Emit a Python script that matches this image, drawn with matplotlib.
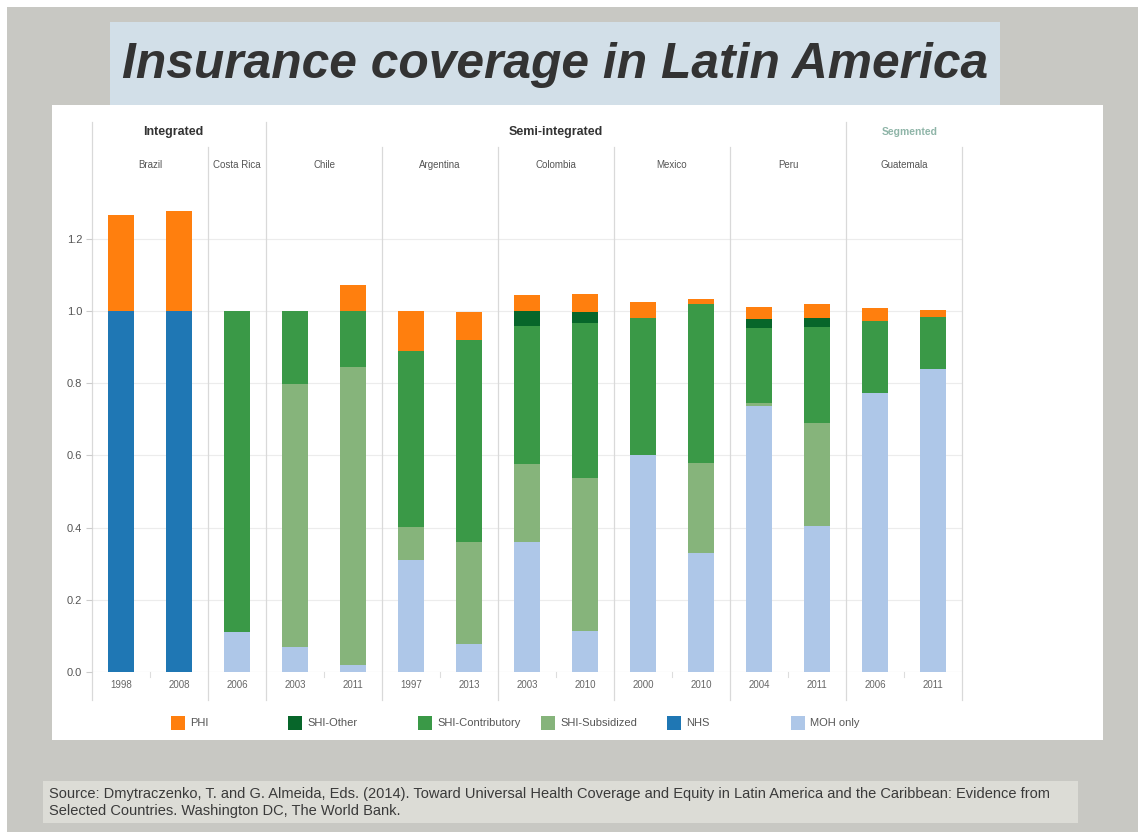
import numpy as np
import matplotlib
matplotlib.use("Agg")
from matplotlib import pyplot as plt
from matplotlib.patches import Rectangle

plt.rcParams['font.family'] = ['Liberation Sans', 'DejaVu Sans']

# one entry per bar, left to right
countries = ["Brazil", "Brazil", "Costa Rica", "Chile", "Chile", "Argentina", "Argentina",
             "Colombia", "Colombia", "Mexico", "Mexico", "Peru", "Peru", "Guatemala", "Guatemala"]
years = ["1998", "2008", "2006", "2003", "2011", "1997", "2013", "2003", "2010",
         "2000", "2010", "2004", "2011", "2006", "2011"]
groups = [("Integrated", 0, 2), ("Semi-integrated", 3, 12), ("Segmented", 13, 14)]

# shares of population, stacked bottom to top
nhs = [1.0, 1.0, 0, 0, 0, 0, 0, 0, 0, 0, 0, 0, 0, 0, 0]
moh = [0, 0, 0.11, 0.07, 0.02, 0.31, 0.078, 0.36, 0.113, 0.60, 0.33, 0.737, 0.404, 0.773, 0.839]
shi_sub = [0, 0, 0, 0.727, 0.825, 0.092, 0.282, 0.216, 0.424, 0, 0.25, 0.008, 0.286, 0, 0]
shi_contrib = [0, 0, 0.89, 0.203, 0.155, 0.487, 0.56, 0.382, 0.43, 0.38, 0.44, 0.208, 0.266, 0.199, 0.144]
shi_other = [0, 0, 0, 0, 0, 0, 0, 0.042, 0.03, 0, 0, 0.025, 0.024, 0, 0]
phi = [0.267, 0.277, 0, 0, 0.072, 0.111, 0.077, 0.044, 0.05, 0.045, 0.014, 0.032, 0.039, 0.036, 0.02]

series = [
    ("NHS", nhs, "#1f77b4"),
    ("MOH only", moh, "#aec7e8"),
    ("SHI-Subsidized", shi_sub, "#86b47b"),
    ("SHI-Contributory", shi_contrib, "#3a9947"),
    ("SHI-Other", shi_other, "#07662a"),
    ("PHI", phi, "#ff7f0e"),
]
legend_order = ["PHI", "SHI-Other", "SHI-Contributory", "SHI-Subsidized", "NHS", "MOH only"]

W, H = 1138, 832
fig = plt.figure(figsize=(W / 100, H / 100), dpi=100, facecolor="white")


def box(x0, y0, x1, y1, color, z=0, **kw):
    fig.add_artist(Rectangle((x0 / W, 1 - y1 / H), (x1 - x0) / W, (y1 - y0) / H,
                             transform=fig.transFigure, facecolor=color,
                             edgecolor="none", zorder=z, **kw))


# slide background, title strip, chart panel, source note
box(7, 7, W, H, "#c8c8c3")
box(110, 22, 1000, 105, "#d2dfe8", 1)
box(52, 105, 1103, 740, "white", 1)
box(43, 781, 1078, 823, "#dcdcd6", 1)

fig.text(555 / W, 1 - 65 / H, "Insurance coverage in Latin America", ha="center", va="center",
         fontsize=35.8, fontweight="bold", fontstyle="italic", color="#333333", zorder=3)
fig.text(49 / W, 1 - 794 / H,
         "Source: Dmytraczenko, T. and G. Almeida, Eds. (2014). Toward Universal Health Coverage and "
         "Equity in Latin America and the Caribbean: Evidence from",
         ha="left", va="center", fontsize=10.5, color="#3a3a3a", zorder=3)
fig.text(49 / W, 1 - 811 / H, "Selected Countries. Washington DC, The World Bank.",
         ha="left", va="center", fontsize=10.5, color="#3a3a3a", zorder=3)

# plot area: y=0 at 672px, y=1 at 311px
ax = fig.add_axes([92 / W, 1 - 672 / H, 870 / W, 550 / H], zorder=5)
ax.set_facecolor("none")
ytop = 550 / 361
ax.set_xlim(-0.5, 14.5)
ax.set_ylim(0, ytop)
for s in ax.spines.values():
    s.set_visible(False)

x = np.arange(len(years))
yt = [0, 0.2, 0.4, 0.6, 0.8, 1.0, 1.2]
ax.hlines(yt[1:], -0.5, 14.5, color="#ececec", lw=0.8, zorder=0)
ax.hlines(0, -0.5, 14.5, color="#d6d6d6", lw=0.8, zorder=0)

bottom = np.zeros(len(years))
handles = {}
for name, vals, col in series:
    vals = np.array(vals)
    handles[name] = ax.bar(x, vals, 0.45, bottom=bottom, color=col, edgecolor="none", zorder=2)
    bottom += vals

ax.set_yticks(yt, [f"{v:.1f}" for v in yt])
ax.tick_params(axis="y", length=4, color="#cccccc", labelsize=8, labelcolor="#555555", pad=3)
ax.set_xticks(x, years)
ax.tick_params(axis="x", length=0, labelsize=7, labelcolor="#666666", pad=6)

# separators between countries and between groups
group_edges = [-0.5, 2.5, 12.5]
country_edges = [1.5, 4.5, 6.5, 8.5, 10.5, 14.5]
for e in group_edges:
    ax.plot([e, e], [-0.078, ytop], color="#d9d9d9", lw=0.9, clip_on=False, zorder=1)
for e in country_edges:
    ax.plot([e, e], [-0.078, 1.455], color="#d9d9d9", lw=0.9, clip_on=False, zorder=1)
for e in [0.5, 3.5, 5.5, 7.5, 9.5, 11.5, 13.5]:
    ax.plot([e, e], [0, -0.015], color="#dddddd", lw=0.8, clip_on=False, zorder=1)

# country names
seen = []
for c in countries:
    if c not in seen:
        seen.append(c)
for c in seen:
    idx = [i for i, cc in enumerate(countries) if cc == c]
    ax.text(np.mean(idx), 1.404, c, ha="center", va="center", fontsize=7, color="#555555")

for name, a, b in groups:
    if name == "Segmented":
        ax.text((a + b) / 2 + 0.1, 1.497, name, ha="center", va="center", fontsize=7.5,
                fontweight="bold", color="#8fb5a8")
    else:
        ax.text((a + b) / 2 - 0.1 if a == 0 else (a + b) / 2, 1.497, name, ha="center",
                va="center", fontsize=9, fontweight="bold", color="#333333")

# legend row
leg_x = [171, 288, 418, 541, 667, 791]
for lx, name in zip(leg_x, legend_order):
    col = handles[name].patches[0].get_facecolor()
    box(lx, 716, lx + 14, 730, col, 3)
    fig.text((lx + 19) / W, 1 - 723 / H, name, ha="left", va="center", fontsize=8,
             color="#555555", zorder=4)

fig.savefig("out.png", dpi=100, facecolor=fig.get_facecolor())
